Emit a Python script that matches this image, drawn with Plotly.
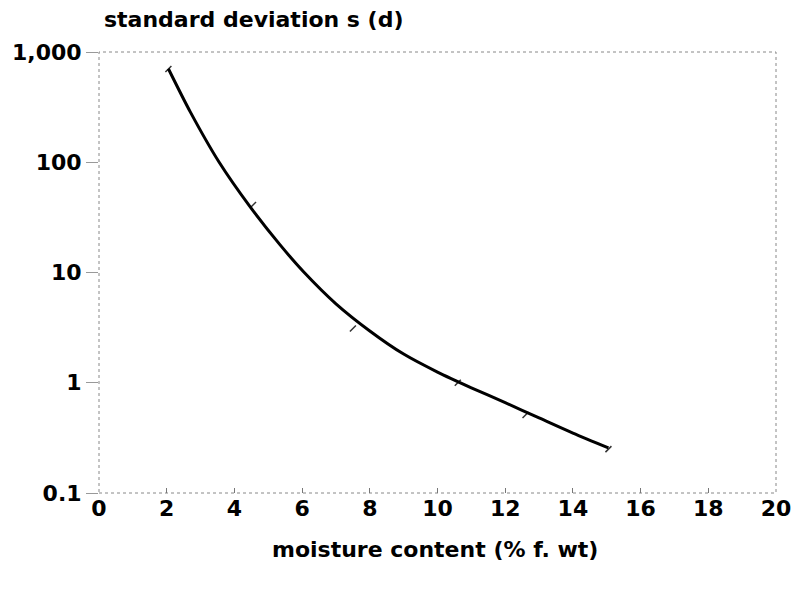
import plotly.graph_objects as go

# fitted curve
curve_x = [2.05, 2.7, 3.55, 4.45, 5.35, 6.05, 7.0, 8.0, 9.0, 10.0, 11.0, 12.0, 13.0, 14.0, 15.05]
curve_y = [705, 285, 100, 40, 17.8, 10.1, 5.2, 2.95, 1.82, 1.25, 0.90, 0.66, 0.48, 0.35, 0.257]

# observed points (small marks)
obs_x = [2.05, 4.55, 7.5, 10.6, 12.6, 15.05]
obs_y = [700, 41, 3.1, 1.0, 0.51, 0.25]

x_ticks = [0, 2, 4, 6, 8, 10, 12, 14, 16, 18, 20]
y_ticks = [0.1, 1, 10, 100, 1000]
y_tick_labels = ["0.1", "1", "10", "100", "1,000"]

FONT = "DejaVu Sans, Arial, sans-serif"

fig = go.Figure()
fig.add_trace(go.Scatter(x=obs_x, y=obs_y, mode="markers",
                         marker=dict(symbol="line-ne", size=6, color="#333",
                                     line=dict(color="#333", width=1.5)),
                         showlegend=False, hoverinfo="skip"))
fig.add_trace(go.Scatter(x=curve_x, y=curve_y, mode="lines",
                         line=dict(color="black", width=3, shape="spline", smoothing=0.8),
                         showlegend=False))

fig.update_layout(
    width=795, height=589,
    margin=dict(l=99, r=19, t=52, b=96),
    paper_bgcolor="white", plot_bgcolor="white",
    font=dict(family=FONT, size=22, color="black"),
    xaxis=dict(range=[0, 20], tickvals=x_ticks, ticktext=[str(v) for v in x_ticks],
               showgrid=False, zeroline=False, showline=False, automargin=False,
               ticks="inside", ticklen=5, tickcolor="#777", tickwidth=1,
               tickfont=dict(family=FONT, size=22, color="black", weight="bold")),
    yaxis=dict(type="log", range=[-1, 3], tickvals=y_ticks, ticktext=y_tick_labels,
               showgrid=False, zeroline=False, showline=False, automargin=False,
               ticks="outside", ticklen=12, tickcolor="#999", tickwidth=1,
               tickfont=dict(family=FONT, size=22, color="black", weight="bold")),
    shapes=[dict(type="rect", xref="paper", yref="paper", x0=0, y0=0, x1=1, y1=1,
                 line=dict(color="#888", width=1, dash="dot"), layer="below")],
    annotations=[
        dict(text="<b>standard deviation s (d)</b>", xref="paper", yref="paper",
             x=0.005, y=1.0726, xanchor="left", yanchor="middle", showarrow=False,
             font=dict(family=FONT, size=22, color="black")),
        dict(text="<b>moisture content (% f. wt)</b>", xref="paper", yref="paper",
             x=0.497, y=-0.129, xanchor="center", yanchor="middle", showarrow=False,
             font=dict(family=FONT, size=22, color="black")),
    ],
)

fig.write_html("out.html")
